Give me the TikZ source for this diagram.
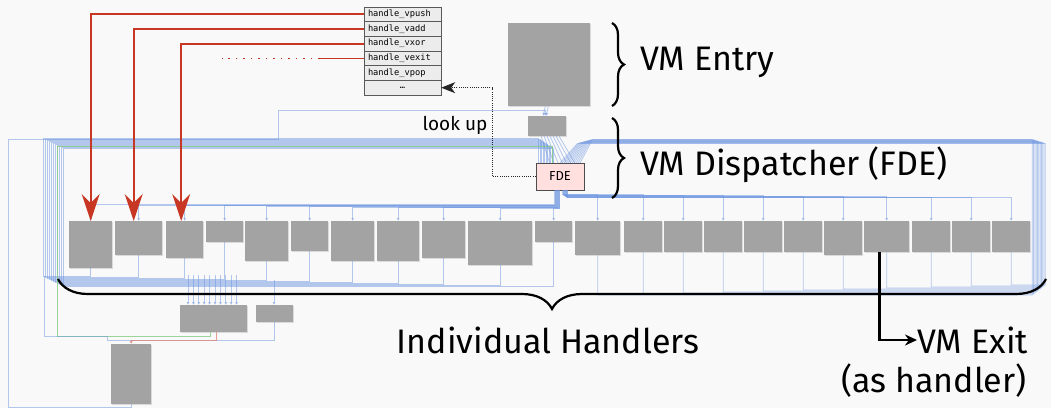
\documentclass[tikz,border=0pt]{standalone}
\usepackage{fontspec}
\setmainfont{Fira Sans}
\setsansfont{Fira Sans}
\setmonofont{DejaVu Sans Mono}
\usetikzlibrary{positioning,arrows.meta,decorations.pathreplacing,shadows}

\definecolor{canvas}{RGB}{249,249,249}
\definecolor{blockgray}{RGB}{163,163,163}
\definecolor{edgeblue}{RGB}{110,150,225}
\definecolor{edgegreen}{RGB}{130,205,130}
\definecolor{handlered}{RGB}{200,55,35}
\definecolor{fdepink}{RGB}{255,224,222}
\definecolor{cellgray}{RGB}{236,236,236}

\begin{document}
\begin{tikzpicture}[
x=1pt, y=-1pt,
block/.style={
  fill=blockgray,
  draw=none,
  anchor=north west,
  inner sep=0pt,
  drop shadow={shadow xshift=1.2pt, shadow yshift=-1.2pt, opacity=0.25}
  },
cell/.style={
  draw=black!65,
  fill=cellgray,
  text width=69pt,
  inner xsep=4pt,
  inner ysep=0pt,
  minimum height=14.67pt,
  align=left,
  font=\ttfamily\fontsize{8.7}{10}\selectfont
  },
fdebox/.style={
  draw=black!70,
  fill=fdepink,
  minimum width=48pt,
  minimum height=27pt,
  font=\sffamily\fontsize{13}{14}\selectfont
  },
edge/.style={draw=edgeblue, line width=0.8pt, opacity=0.5},
greenedge/.style={draw=edgegreen, line width=0.8pt, opacity=0.8},
rededge/.style={draw=handlered!60, line width=0.8pt, opacity=0.8},
tip/.style={-{Latex[length=3pt,width=3pt]}},
tipback/.style={{Latex[length=3pt,width=3pt]}-},
hredge/.style={
  draw=handlered,
  line width=1.8pt,
  -{Stealth[length=27pt,width=18pt,inset=9pt]}
  },
redline/.style={draw=handlered, line width=1.6pt},
lookarrow/.style={
  draw=black!85,
  line width=0.9pt,
  dash pattern=on 1pt off 1.2pt,
  -{Stealth[length=14pt,width=11pt,inset=4pt]}
  },
braceline/.style={draw=black, line width=2.2pt, decorate},
biglabel/.style={font=\fontsize{34}{38}\selectfont, inner sep=0pt},
exitarrow/.style={draw=black, line width=2.5pt, -{Stealth[length=12pt,width=11pt]}}
]
\fill[canvas] (0,0) rectangle (1051,408);
\useasboundingbox (0,0) rectangle (1051,408);

\foreach \xa/\xb/\yb [count=\i] in {69/112/268, 115/162/255, 166/203/258, 206/243/242,
  245/288/261, 291/328/251, 331/374/261, 377/419/261, 422/465/258, 468/532/265,
  535/572/242, 575/620/255, 624/662/252, 664/702/252, 704/742/252, 744/782/252,
  784/822/252, 824/862/255, 864/909/252, 912/950/252, 952/990/252, 992/1030/252}
  \node[block, minimum width={(\xb-\xa)*1pt}, minimum height={(\yb-221)*1pt}] (h\i) at (\xa,221) {};

\node[block, minimum width=82pt, minimum height=83pt] (entry) at (508,23) {};
\node[block, minimum width=38pt, minimum height=20pt] (disp) at (528,116) {};
\node[fdebox] (fde) at (560,176.5) {FDE};
\node[block, minimum width=67pt, minimum height=27pt] (sub1) at (180,305) {};
\node[block, minimum width=37pt, minimum height=17pt] (sub2) at (256,305) {};
\node[block, minimum width=40pt, minimum height=60pt] (fin) at (111,344) {};

\draw[edge,tip] ([xshift=-4pt]entry.south) -- ([xshift=-4pt]disp.north);
\draw[edge,tip] ([xshift=-1pt]entry.south) -- ([xshift=-1pt]disp.north);
\foreach \d in {-6,-3,...,12}
  \draw[edge] ([xshift=\d pt]disp.south) -- ([xshift={(\d*1.4-2)*1pt}]fde.north);

\foreach \i [count=\k] in {1,...,11}
  \draw[edge] (h\i.south) |- ({41+2*\k},{275+\k}) |- ({537+1.5*\k},{137+\k}) -- ({537+1.5*\k},163);
\foreach \i [count=\k] in {12,...,22}
  \draw[edge] (h\i.south) |- ({1031+1.3*\k},{296-\k}) |- ({594-1.5*\k},{139+0.4*\k}) -- ({582-2*\k},163);

\foreach \i [count=\k] in {1,...,11}
  \draw[edge,tip] ([xshift={(-6+0.5*\k)*1pt}]fde.south) -- ++(0,{14+0.4*\k}) -| (h\i.north);
\foreach \i [count=\k] in {12,...,22}
  \draw[edge,tip] ([xshift={(2+0.5*\k)*1pt}]fde.south) -- ++(0,{4+0.3*\k}) -| (h\i.north);

\draw[edge,tip] (fin.south) -- ++(0,3) -| (8,139) -| (278,110) -| ([xshift=-2pt]disp.north);

\foreach \k in {0,...,9}
  \draw[edge,tipback] ([xshift={(8+5.4*\k)*1pt}]sub1.north west) -- ++(0,-30);
\draw[edge,tipback] ([xshift=18pt]sub2.north west) -- ++(0,-25);

\draw[greenedge] ([xshift=-3pt]sub1.south) |- (57,336) -- (57,146) -| (552,163);
\draw[edge] (sub2.south) |- (107,340) |- (44,336) -- (44,276);
\draw[rededge,tip] ([xshift=3pt]sub1.south) |- ([yshift=4pt]fin.north) -- (fin.north);

\foreach \lbl [count=\r] in {handle\_vpush, handle\_vadd, handle\_vxor, handle\_vexit, handle\_vpop}
  \node[cell] (t\r) at (402.5,{7+14.67*(\r-0.5)}) {\lbl};
\node[cell, align=center] (t6) at (402.5,{7+14.67*5.5}) {…};

\draw[hredge] (t1.west) -| (h1.north);
\draw[hredge] (t2.west) -| ([xshift=-5pt]h2.north);
\draw[hredge] (t3.west) -| ([xshift=-3.5pt]h3.north);
\draw[redline] (t4.west) -- ++(-44,0) coordinate (vxa);
\draw[redline, dash pattern=on 1.5pt off 6pt] (vxa) -- ++(-98,0);

\draw[lookarrow] (fde.west) -| ([xshift=51pt]t6.east) -- (t6.east);
\node[font=\fontsize{19}{22}\selectfont] (lklabel) at (455,125) {look up};

\draw[braceline, decoration={brace, amplitude=12pt}] (612,23) -- (612,106);
\draw[braceline, decoration={brace, amplitude=12pt}] (612,118) -- (612,198);
\draw[braceline, decoration={brace, mirror, amplitude=30pt}] (58,279) -- (1046,279);

\node[biglabel, anchor=west] (entrylbl) at (640,62) {VM Entry};
\node[biglabel, anchor=west] (displbl) at (640,165) {VM Dispatcher (FDE)};
\node[biglabel] (hlbl) at (548,340) {Individual Handlers};
\node[biglabel, anchor=west] (exitlbl) at (917,340) {VM Exit};
\node[biglabel] (ashandler) at (934,381) {(as handler)};

\draw[exitarrow] ([xshift=-7pt]h19.south) |- (exitlbl.west);
\end{tikzpicture}
\end{document}
